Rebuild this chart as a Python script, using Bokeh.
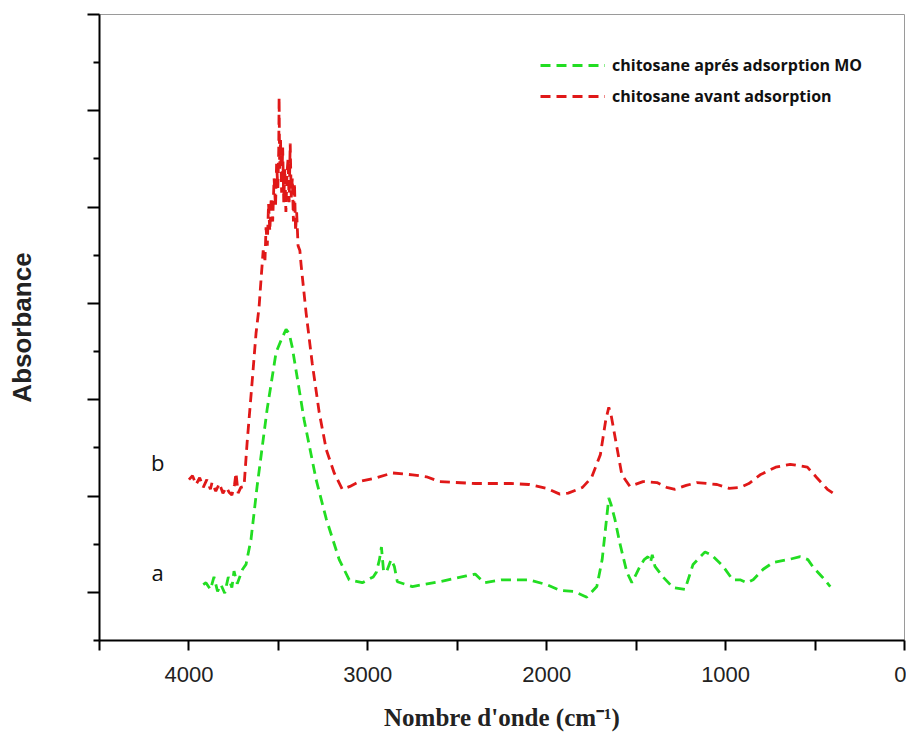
from bokeh.plotting import figure
from bokeh.models import (Range1d, FixedTicker, Legend, LegendItem, Label)
from bokeh.embed import file_html
from bokeh.resources import INLINE

# ---- data ----
wn_after = [3920, 3905, 3880, 3860, 3840, 3821, 3800, 3780, 3760, 3748, 3730, 3700,
            3681, 3653, 3619, 3563, 3513, 3480, 3457, 3440, 3423, 3356, 3289, 3232,
            3160, 3104, 3031, 2970, 2952, 2935, 2924, 2912, 2896, 2870, 2852, 2835,
            2751, 2600, 2450, 2400, 2350, 2250, 2100, 2000, 1927, 1850, 1776, 1720,
            1690, 1653, 1640, 1619, 1590, 1552, 1524, 1500, 1479, 1455, 1434, 1420,
            1410, 1395, 1350, 1294, 1227, 1182, 1115, 1080, 1014, 960, 919, 880,
            846, 790, 734, 650, 583, 540, 510, 460, 415]
abs_after = [0.08, 0.10, 0.03, 0.16, 0.01, 0.08, -0.01, 0.16, 0.05, 0.22, 0.09, 0.24,
             0.29, 0.55, 1.10, 1.90, 2.49, 2.64, 2.73, 2.69, 2.55, 1.79, 1.17, 0.76,
             0.34, 0.13, 0.10, 0.16, 0.21, 0.34, 0.47, 0.22, 0.21, 0.34, 0.27, 0.11,
             0.06, 0.11, 0.17, 0.19, 0.10, 0.13, 0.13, 0.08, 0.02, 0.01, -0.05, 0.06,
             0.34, 0.98, 0.91, 0.76, 0.50, 0.21, 0.10, 0.19, 0.27, 0.34, 0.37, 0.31,
             0.39, 0.27, 0.16, 0.05, 0.03, 0.29, 0.42, 0.39, 0.27, 0.13, 0.13, 0.10,
             0.13, 0.24, 0.31, 0.34, 0.37, 0.34, 0.26, 0.16, 0.06]

wn_before = [4000, 3980, 3960, 3940, 3920, 3900, 3880, 3871, 3850, 3830, 3810, 3790,
             3776, 3760, 3745, 3737, 3725, 3710, 3692, 3675, 3647, 3625, 3608, 3595,
             3585, 3575, 3569, 3562, 3555, 3548, 3540, 3532, 3524, 3516, 3510, 3503,
             3498, 3496, 3493, 3488, 3482, 3476, 3470, 3464, 3458, 3452, 3446, 3440,
             3434, 3428, 3422, 3416, 3410, 3404, 3398, 3390, 3380, 3373, 3345, 3311,
             3272, 3232, 3188, 3143, 3100, 3048, 2950, 2863, 2750, 2672, 2600, 2400,
             2200, 2100, 2000, 1927, 1880, 1800, 1750, 1700, 1670, 1653, 1640, 1610,
             1580, 1535, 1462, 1384, 1330, 1283, 1220, 1160, 1048, 980, 919, 870,
             807, 720, 639, 543, 490, 431, 400]
abs_before = [1.17, 1.21, 1.12, 1.19, 1.09, 1.17, 1.07, 1.14, 1.05, 1.13, 1.03, 1.09,
              1.04, 1.01, 1.12, 1.24, 1.03, 1.09, 1.10, 1.55, 2.18, 2.69, 2.96, 3.30,
              3.55, 3.45, 3.79, 3.60, 4.04, 3.75, 4.10, 3.85, 4.30, 4.00, 4.45, 4.20,
              4.60, 5.14, 4.40, 4.70, 4.15, 4.62, 4.05, 4.40, 3.95, 4.35, 4.50, 4.05,
              4.66, 4.10, 4.30, 3.85, 4.25, 3.75, 3.95, 3.60, 3.55, 3.40, 2.90, 2.38,
              1.87, 1.48, 1.24, 1.07, 1.10, 1.15, 1.19, 1.24, 1.22, 1.20, 1.15, 1.13,
              1.13, 1.12, 1.08, 1.02, 1.03, 1.09, 1.19, 1.43, 1.79, 1.92, 1.84, 1.53,
              1.22, 1.10, 1.15, 1.14, 1.09, 1.07, 1.11, 1.14, 1.12, 1.08, 1.09, 1.13,
              1.22, 1.30, 1.33, 1.30, 1.19, 1.07, 1.03]

x_major = [4000, 3000, 2000, 1000, 0]
x_minor = [4500, 3500, 2500, 1500, 500]
y_major = [0, 1, 2, 3, 4, 5, 6]
y_minor = [-0.5, 0.5, 1.5, 2.5, 3.5, 4.5, 5.5]

label_after = "chitosane aprés adsorption MO"
label_before = "chitosane avant adsorption"

GREEN = "#22dd22"
RED = "#e01818"

p = figure(width=906, height=733, output_backend="svg", toolbar_location=None,
           x_range=Range1d(4500, 0), y_range=Range1d(-0.5, 6.0),
           min_border_left=99, min_border_right=2, min_border_top=14,
           min_border_bottom=93)
p.background_fill_color = "white"
p.border_fill_color = "white"
p.outline_line_color = "#9a9a9a"
p.outline_line_width = 1
p.xgrid.visible = False
p.ygrid.visible = False

r_after = p.line(wn_after, abs_after, line_color=GREEN, line_width=2.8, line_dash="10 6")
r_before = p.line(wn_before, abs_before, line_color=RED, line_width=2.8, line_dash="10 6")

# axes
p.xaxis.ticker = FixedTicker(ticks=x_major, minor_ticks=x_minor)
p.yaxis.ticker = FixedTicker(ticks=y_major, minor_ticks=y_minor)
for ax in (p.xaxis[0], p.yaxis[0]):
    ax.axis_line_width = 2
    ax.axis_line_color = "black"
    ax.major_tick_line_width = 2
    ax.minor_tick_line_width = 2
    ax.major_tick_line_color = "black"
    ax.minor_tick_line_color = "black"
    ax.major_tick_in = 0
    ax.minor_tick_in = 0

p.xaxis.major_tick_out = 10
p.xaxis.minor_tick_out = 10
p.xaxis.major_label_text_font = "Liberation Sans"
p.xaxis.major_label_text_font_size = "22px"
p.xaxis.major_label_text_color = "#222222"
p.xaxis.major_label_standoff = 16
p.xaxis.axis_label = "Nombre d'onde (cm⁻¹)"
p.xaxis.axis_label_text_font = "Liberation Serif"
p.xaxis.axis_label_text_font_style = "bold"
p.xaxis.axis_label_text_font_size = "25px"
p.xaxis.axis_label_text_color = "#222222"
p.xaxis.axis_label_standoff = 19

p.yaxis.major_tick_out = 12
p.yaxis.minor_tick_out = 6
p.yaxis.major_label_overrides = {t: "" for t in y_major}
p.yaxis.major_label_standoff = 0
p.yaxis.axis_label = "Absorbance"
p.yaxis.axis_label_text_font = "Liberation Sans"
p.yaxis.axis_label_text_font_style = "bold"
p.yaxis.axis_label_text_font_size = "26px"
p.yaxis.axis_label_text_color = "#222222"
p.yaxis.axis_label_standoff = 51

# curve labels
p.add_layout(Label(x=4175, y=0.06, text="a", text_align="center",
                   text_font="Open Sans", text_font_size="22px", text_color="#111111"))
p.add_layout(Label(x=4175, y=1.20, text="b", text_align="center",
                   text_font="Open Sans", text_font_size="22px", text_color="#111111"))

legend = Legend(items=[LegendItem(label=label_after, renderers=[r_after]),
                       LegendItem(label=label_before, renderers=[r_before])],
                location=(441, 533), orientation="vertical",
                glyph_width=65, glyph_height=20, label_height=20,
                label_standoff=7, spacing=9, padding=0, margin=0,
                border_line_alpha=0, background_fill_alpha=0,
                label_text_font="Open Sans", label_text_font_style="bold",
                label_text_font_size="16px", label_text_color="#111111")
p.add_layout(legend)

open("out.html", "w").write(file_html(p, INLINE))
